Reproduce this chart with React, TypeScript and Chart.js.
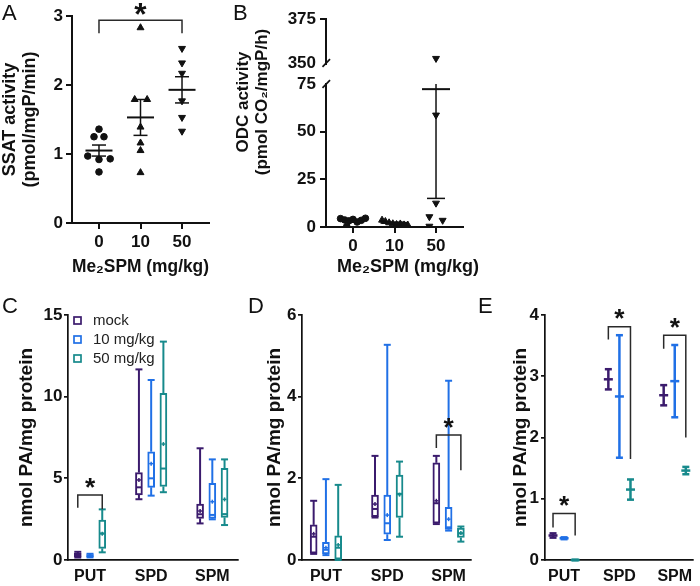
import React, { useEffect, useRef } from 'react';
import { Chart, registerables } from 'chart.js';

Chart.register(...registerables);

const FONT = "'Liberation Sans', Arial, Helvetica, sans-serif";
const INK = '#111111';
const PURPLE = '#3b1b6d';
const BLUE = '#2070e6';
const TEAL = '#178a8c';

// ---------------- Panels A & B : dose groups ----------------
const doseLabels = ['0', '10', '50'];
const doseTitle = 'Me\u2082SPM (mg/kg)';

// A: SSAT activity (pmol/mgP/min)
const ssat0 = [1.36, 1.25, 1.25, 0.97, 0.92, 0.93, 0.74];
const ssat0Jitter = [0, -0.12, 0.12, -0.27, 0, 0.27, 0];
const ssat10 = [2.83, 1.79, 1.79, 1.39, 1.16, 1.05, 0.73];
const ssat10Jitter = [0, -0.14, 0.16, 0, 0, 0, 0];
const ssat50 = [2.53, 2.32, 2.17, 1.77, 1.53, 1.33];
const ssat50Jitter = [0, 0, 0, 0, 0, 0];
const ssatMean = [1.05, 1.53, 1.93];
const ssatSem = [0.08, 0.26, 0.19];
// bracket: [x from, x to, top, left leg end, right leg end]
const ssatSig = [[0, 2, 2.94, 2.75, 2.75]];

// B: ODC activity (pmol CO2/mgP/h)
const odc0 = [4.4, 3.7, 3.2, 4.0, 2.6, 3.5, 4.6, 0.3];
const odc0Jitter = [-0.3, -0.2, -0.1, 0, 0.1, 0.2, 0.3, -0.15];
const odc10 = [3.6, 2.9, 2.2, 1.7, 1.3, 1.6, 1.1, 1.0];
const odc10Jitter = [-0.3, -0.22, -0.13, -0.04, 0.05, 0.14, 0.23, 0.32];
const odc50 = [353, 58.7, 12.5, 5.4, 3.5, 0.4];
const odc50Jitter = [0, 0, 0, -0.16, 0.16, -0.16];
const odcMean = [3.4, 2.2, 72.3];
const odcSem = [0.5, 0.3, 57.3];

// ---------------- Panels C, D, E : polyamines ----------------
const paCategories = ['PUT', 'SPD', 'SPM'];
const seriesLabels = ['mock', '10 mg/kg', '50 mg/kg'];
const paTitle = 'nmol PA/mg protein';

// C: boxes [min, q1, median, q3, max] for PUT, SPD, SPM
const cMock = [[0.15, 0.2, 0.3, 0.42, 0.5], [3.72, 3.98, 4.45, 5.35, 11.67], [2.24, 2.55, 2.8, 3.43, 6.84]];
const cMockMean = [0.32, 4.9, 3.0];
const c10 = [[0.16, 0.2, 0.26, 0.33, 0.38], [3.94, 4.45, 5.0, 6.63, 11.02], [2.49, 2.55, 2.76, 4.69, 6.16]];
const c10Mean = [0.27, 5.9, 3.57];
const c50 = [[0.47, 0.71, 1.63, 2.45, 3.1], [4.15, 4.5, 5.6, 10.2, 13.37], [2.14, 2.61, 2.81, 5.61, 6.16]];
const c50Mean = [1.6, 7.1, 3.71];
const cSig = [[-0.2, 0.2, 3.98, 3.2, 3.1]];

// D
const dMock = [[0.15, 0.17, 0.57, 0.86, 1.45], [1.04, 1.06, 1.25, 1.59, 2.55], [0.88, 0.9, 1.39, 2.38, 2.55]];
const dMockMean = [0.64, 1.37, 1.45];
const d10 = [[0.12, 0.15, 0.25, 0.43, 1.98], [0.49, 0.63, 0.9, 1.59, 5.27], [0.72, 0.75, 0.8, 1.29, 4.39]];
const d10Mean = [0.3, 1.1, 1.0];
const d50 = [[0.0, 0.02, 0.3, 0.59, 1.84], [0.57, 1.04, 1.62, 2.08, 2.41], [0.45, 0.55, 0.65, 0.78, 0.82]];
const d50Mean = [0.37, 1.6, 0.66];
const dSig = [[1.8, 2.2, 3.06, 2.74, 2.2]];

// E: mean and SEM
const eMockMean = [0.4, 2.95, 2.69];
const eMockSem = [0.035, 0.165, 0.165];
const e10Mean = [0.355, 2.67, 2.92];
const e10Sem = [0.015, 1.0, 0.59];
const e50Mean = [0.0, 1.15, 1.46];
const e50Sem = [0.005, 0.165, 0.06];
const eSig = [
  [-0.2, 0.2, 0.76, 0.53, 0.4],
  [0.8, 1.2, 3.81, 3.6, 1.65],
  [1.8, 2.2, 3.67, 3.45, 2.0],
];

const SERIES_OFFSETS = [-0.2, 0, 0.2];
const SERIES_COLORS = [PURPLE, BLUE, TEAL];

// ---------------- helpers ----------------
const boldFont = (size: number, lineHeight = 1.2) => ({ family: FONT, size, weight: 'bold', lineHeight });

function seg(ctx: any, x1: number, y1: number, x2: number, y2: number) {
  ctx.beginPath();
  ctx.moveTo(x1, y1);
  ctx.lineTo(x2, y2);
  ctx.stroke();
}

function yAxis(o: any) {
  return {
    type: 'linear',
    position: 'left',
    min: o.min,
    max: o.max,
    ticks: { stepSize: o.step, color: INK, font: boldFont(o.size), padding: o.tickPad },
    grid: {
      display: true,
      drawOnChartArea: false,
      drawTicks: true,
      tickLength: o.tickLen,
      lineWidth: o.line,
      color: INK,
      tickColor: (c: any) => (o.hide && c.tick && o.hide.includes(c.tick.value) ? 'rgba(0,0,0,0)' : INK),
    },
    border: { display: true, color: INK, width: o.line },
    title: o.title
      ? { display: true, text: o.title.text, color: INK, font: boldFont(o.title.size, o.title.lh), padding: { top: o.title.pad, bottom: 0 } }
      : { display: false },
    afterFit: (s: any) => {
      s.width = o.width;
    },
  };
}

function xAxis(o: any) {
  return {
    type: 'linear',
    position: 'bottom',
    min: o.min,
    max: o.max,
    offset: false,
    afterBuildTicks: (s: any) => {
      s.ticks = o.labels.map((_: string, i: number) => ({ value: i }));
    },
    ticks: {
      color: INK,
      font: boldFont(o.size),
      padding: o.tickPad,
      autoSkip: false,
      maxRotation: 0,
      callback: (v: number) => o.labels[Math.round(v)],
    },
    grid: {
      display: true,
      drawOnChartArea: false,
      drawTicks: o.tickLen > 0,
      tickLength: o.tickLen,
      lineWidth: o.line,
      color: INK,
      offset: false,
    },
    border: { display: true, color: INK, width: o.line },
    title: o.title
      ? { display: true, text: o.title.text, color: INK, font: boldFont(o.title.size, o.title.lh), padding: { top: 0, bottom: o.title.pad } }
      : { display: false },
    afterFit: (s: any) => {
      s.height = o.height;
    },
  };
}

const baseOptions = (padding: any) => ({
  responsive: false,
  animation: false,
  events: [],
  layout: { padding },
  plugins: { legend: { display: false }, tooltip: { enabled: false } },
});

type TextItem = { text: string; x: number; y: number; size: number; bold?: boolean; rotate?: boolean; align?: string; baseline?: string };

const textPlugin = (items: TextItem[]) => ({
  id: 'texts',
  afterDraw(chart: any) {
    const ctx = chart.ctx;
    items.forEach((t) => {
      ctx.save();
      ctx.font = `${t.bold ? 'bold ' : ''}${t.size}px ${FONT}`;
      ctx.fillStyle = INK;
      ctx.textAlign = t.align || 'center';
      ctx.textBaseline = t.baseline || 'middle';
      ctx.translate(t.x, t.y);
      if (t.rotate) ctx.rotate(-Math.PI / 2);
      ctx.fillText(t.text, 0, 0);
      ctx.restore();
    });
  },
});

const meanSemPlugin = (means: number[], sems: number[], meanHalf: number, capHalf: number) => ({
  id: 'meanSem',
  afterDatasetsDraw(chart: any) {
    const { ctx, chartArea: ca } = chart;
    const xs = chart.scales.x;
    const ys = chart.scales.y;
    ctx.save();
    ctx.beginPath();
    ctx.rect(ca.left, ca.top, ca.right - ca.left, ca.bottom - ca.top);
    ctx.clip();
    ctx.strokeStyle = INK;
    means.forEach((m, i) => {
      const cx = xs.getPixelForValue(i);
      const ym = ys.getPixelForValue(m);
      const yh = ys.getPixelForValue(m + sems[i]);
      const yl = ys.getPixelForValue(m - sems[i]);
      ctx.lineWidth = 2;
      seg(ctx, cx - meanHalf, ym, cx + meanHalf, ym);
      ctx.lineWidth = 1.5;
      seg(ctx, cx, yl, cx, yh);
      seg(ctx, cx - capHalf, yh, cx + capHalf, yh);
      seg(ctx, cx - capHalf, yl, cx + capHalf, yl);
    });
    ctx.restore();
  },
});

const sigPlugin = (brackets: number[][], starH: number, gap: number) => ({
  id: 'sig',
  afterDraw(chart: any) {
    const ctx = chart.ctx;
    const xs = chart.scales.x;
    const ys = chart.scales.y;
    ctx.save();
    ctx.strokeStyle = '#2a2a2a';
    ctx.lineWidth = 1.5;
    brackets.forEach(([x1, x2, top, l, r]) => {
      const X1 = xs.getPixelForValue(x1);
      const X2 = xs.getPixelForValue(x2);
      const T = ys.getPixelForValue(top);
      ctx.beginPath();
      ctx.moveTo(X1, ys.getPixelForValue(l));
      ctx.lineTo(X1, T);
      ctx.lineTo(X2, T);
      ctx.lineTo(X2, ys.getPixelForValue(r));
      ctx.stroke();
      ctx.font = `bold 100px ${FONT}`;
      const m0 = ctx.measureText('*');
      const h0 = m0.actualBoundingBoxAscent + m0.actualBoundingBoxDescent || 35;
      const size = (100 * starH) / h0;
      ctx.font = `bold ${size}px ${FONT}`;
      ctx.fillStyle = INK;
      ctx.textAlign = 'center';
      ctx.textBaseline = 'alphabetic';
      const m = ctx.measureText('*');
      const cy = T - gap;
      const base = cy + (m.actualBoundingBoxAscent - m.actualBoundingBoxDescent) / 2;
      ctx.fillText('*', (X1 + X2) / 2, base);
    });
    ctx.restore();
  },
});

const boxPlugin = (groups: number[][][], means: number[][], half: number) => ({
  id: 'boxWhiskers',
  afterDatasetsDraw(chart: any) {
    const ctx = chart.ctx;
    const xs = chart.scales.x;
    const ys = chart.scales.y;
    ctx.save();
    groups.forEach((boxes, k) => {
      ctx.strokeStyle = SERIES_COLORS[k];
      boxes.forEach((b, i) => {
        const cx = xs.getPixelForValue(i + SERIES_OFFSETS[k]);
        const [mn, q1, md, q3, mx] = b.map((v) => ys.getPixelForValue(v));
        ctx.lineWidth = 2;
        seg(ctx, cx, q3, cx, mx);
        seg(ctx, cx, q1, cx, mn);
        seg(ctx, cx - half, mx, cx + half, mx);
        seg(ctx, cx - half, mn, cx + half, mn);
        seg(ctx, cx - half + 1, md, cx + half - 1, md);
        const ym = ys.getPixelForValue(means[k][i]);
        ctx.lineWidth = 1.5;
        seg(ctx, cx - 2, ym, cx + 2, ym);
        seg(ctx, cx, ym - 2, cx, ym + 2);
      });
    });
    ctx.restore();
  },
});

const errPlugin = (means: number[][], sems: number[][], capHalf: number) => ({
  id: 'errBars',
  afterDatasetsDraw(chart: any) {
    const ctx = chart.ctx;
    const xs = chart.scales.x;
    const ys = chart.scales.y;
    ctx.save();
    means.forEach((ms, k) => {
      ctx.strokeStyle = SERIES_COLORS[k];
      ctx.lineWidth = 2.5;
      ms.forEach((m, i) => {
        const cx = xs.getPixelForValue(i + SERIES_OFFSETS[k]);
        const yh = ys.getPixelForValue(m + sems[k][i]);
        const yl = ys.getPixelForValue(m - sems[k][i]);
        seg(ctx, cx, yl, cx, yh);
        seg(ctx, cx - capHalf, yh, cx + capHalf, yh);
        seg(ctx, cx - capHalf, yl, cx + capHalf, yl);
      });
    });
    ctx.restore();
  },
});

const legendPlugin = {
  id: 'boxLegend',
  afterDraw(chart: any) {
    const ctx = chart.ctx;
    const ca = chart.chartArea;
    ctx.save();
    seriesLabels.forEach((label, i) => {
      const y = ca.top + 5.5 + i * 19;
      const x = ca.left + 6;
      ctx.fillStyle = '#ffffff';
      ctx.fillRect(x, y - 3.5, 7, 7);
      ctx.strokeStyle = SERIES_COLORS[i];
      ctx.lineWidth = 1.7;
      ctx.strokeRect(x, y - 3.5, 7, 7);
      ctx.font = `15px ${FONT}`;
      ctx.fillStyle = '#222';
      ctx.textAlign = 'left';
      ctx.textBaseline = 'middle';
      ctx.fillText(label, x + 19, y + 0.5);
    });
    ctx.restore();
  },
};

const breakPlugin = {
  id: 'axisBreak',
  afterDraw(chart: any) {
    const { ctx, chartArea: ca } = chart;
    ctx.save();
    ctx.strokeStyle = INK;
    ctx.lineWidth = 1.7;
    [ca.top, ca.top - 21].forEach((cy) => seg(ctx, ca.left - 3.5, cy + 3.8, ca.left + 4, cy - 3.8));
    ctx.restore();
  },
};

const pts = (vals: number[], jit: number[], center: number) => vals.map((v, i) => ({ x: center + jit[i], y: v }));
const dot = { backgroundColor: INK, borderColor: INK, pointBackgroundColor: INK, pointBorderColor: INK, pointBorderWidth: 1 };

// ---------------- chart configs ----------------
function configA() {
  return {
    type: 'scatter',
    data: {
      datasets: [
        { data: pts(ssat0, ssat0Jitter, 0), pointStyle: 'circle', pointRadius: 3.3, ...dot },
        { data: pts(ssat10, ssat10Jitter, 1), pointStyle: 'triangle', pointRadius: 4, ...dot },
        { data: pts(ssat50, ssat50Jitter, 2), pointStyle: 'triangle', pointRotation: 180, pointRadius: 4, ...dot },
      ],
    },
    options: {
      ...baseOptions({ top: 16, right: 21, bottom: 0, left: 0 }),
      scales: {
        x: xAxis({ min: -0.65, max: 2.65, labels: doseLabels, height: 57, tickLen: 6, tickPad: 3, size: 17, line: 2, title: { text: doseTitle, size: 18, lh: 1.1, pad: 3 } }),
        y: yAxis({ min: 0, max: 3, step: 1, width: 72, tickLen: 6, tickPad: 3, size: 17, line: 2, title: { text: ['SSAT activity', '(pmol/mgP/min)'], size: 18, lh: 1.1, pad: 0 } }),
      },
    },
    plugins: [
      meanSemPlugin(ssatMean, ssatSem, 13.5, 7),
      sigPlugin(ssatSig, 12, 11),
      textPlugin([{ text: 'A', x: 2, y: 20, size: 22, align: 'left', baseline: 'alphabetic' }]),
    ],
  };
}

function odcDatasets() {
  return [
    { data: pts(odc0, odc0Jitter, 0), pointStyle: 'circle', pointRadius: 3.3, ...dot },
    { data: pts(odc10, odc10Jitter, 1), pointStyle: 'triangle', pointRadius: 4, ...dot },
    { data: pts(odc50, odc50Jitter, 2), pointStyle: 'triangle', pointRotation: 180, pointRadius: 4, ...dot },
  ];
}

function configBLower() {
  return {
    type: 'scatter',
    data: { datasets: odcDatasets() },
    options: {
      ...baseOptions({ top: 84, right: 17, bottom: 0, left: 0 }),
      scales: {
        x: xAxis({ min: -0.65, max: 2.65, labels: doseLabels, height: 53, tickLen: 6, tickPad: 3, size: 17, line: 2 }),
        y: yAxis({ min: 0, max: 75, step: 25, width: 96, tickLen: 6, tickPad: 4, size: 17, line: 2, hide: [75] }),
      },
    },
    plugins: [
      meanSemPlugin(odcMean, odcSem, 14, 9),
      breakPlugin,
      textPlugin([
        { text: 'B', x: 3, y: 20, size: 22, align: 'left', baseline: 'alphabetic' },
        { text: 'ODC activity', x: 13.5, y: 102, size: 17, bold: true, rotate: true },
        { text: '(pmol CO\u2082/mgP/h)', x: 32, y: 102, size: 17, bold: true, rotate: true },
        { text: doseTitle, x: 178, y: 267, size: 18, bold: true },
      ]),
    ],
  };
}

function configBUpper() {
  return {
    type: 'scatter',
    data: { datasets: odcDatasets() },
    options: {
      ...baseOptions({ top: 19, right: 17, bottom: 11, left: 0 }),
      scales: {
        x: { type: 'linear', min: -0.65, max: 2.65, display: false },
        y: yAxis({ min: 350, max: 375, step: 25, width: 96, tickLen: 6, tickPad: 4, size: 17, line: 2, hide: [350] }),
      },
    },
  };
}

function boxConfig(p: any) {
  const datasets = p.groups.map((boxes: number[][], k: number) => ({
    label: seriesLabels[k],
    data: boxes.map((b, i) => ({ x: i + SERIES_OFFSETS[k], y: [b[1], b[3]] })),
    backgroundColor: '#ffffff',
    borderColor: SERIES_COLORS[k],
    borderWidth: 2,
    borderSkipped: false,
    barThickness: 7,
    grouped: false,
  }));
  const plugins: any[] = [
    boxPlugin(p.groups, p.means, 3.5),
    sigPlugin(p.sig, 10, 12),
    textPlugin([{ text: p.letter, x: p.letterX, y: 33, size: 22, align: 'left', baseline: 'alphabetic' }]),
  ];
  if (p.legend) plugins.push(legendPlugin);
  return {
    type: 'bar',
    data: { datasets },
    options: {
      ...baseOptions({ top: 35, right: p.right, bottom: 0, left: 0 }),
      scales: {
        x: xAxis({ min: p.xMin, max: p.xMax, labels: paCategories, height: 26, tickLen: 0, tickPad: 7, size: 16, line: 1.7 }),
        y: yAxis({ min: 0, max: p.yMax, step: p.yStep, width: p.yWidth, tickLen: 4, tickPad: 1.5, size: 17, line: 1.7, title: { text: paTitle, size: 19, lh: 1.2, pad: p.titlePad } }),
      },
    },
    plugins,
  };
}

const configC = () =>
  boxConfig({ groups: [cMock, c10, c50], means: [cMockMean, c10Mean, c50Mean], sig: cSig, yMax: 15, yStep: 5, xMin: -0.36, xMax: 2.42, yWidth: 68, right: 4, titlePad: 15.3, letter: 'C', letterX: 2, legend: true });

const configD = () =>
  boxConfig({ groups: [dMock, d10, d50], means: [dMockMean, d10Mean, d50Mean], sig: dSig, yMax: 6, yStep: 2, xMin: -0.39, xMax: 2.365, yWidth: 60, right: 4, titlePad: 21.6, letter: 'D', letterX: 6 });

function configE() {
  const means = [eMockMean, e10Mean, e50Mean];
  const sems = [eMockSem, e10Sem, e50Sem];
  return {
    type: 'scatter',
    data: {
      datasets: means.map((ms, k) => ({
        label: seriesLabels[k],
        data: ms.map((m, i) => ({ x: i + SERIES_OFFSETS[k], y: m })),
        pointStyle: 'line',
        pointRadius: 4.5,
        pointBorderWidth: 2.5,
        borderColor: SERIES_COLORS[k],
        pointBorderColor: SERIES_COLORS[k],
        backgroundColor: SERIES_COLORS[k],
        clip: false,
      })),
    },
    options: {
      ...baseOptions({ top: 35, right: 0, bottom: 0, left: 0 }),
      scales: {
        x: xAxis({ min: -0.345, max: 2.33, labels: paCategories, height: 26, tickLen: 0, tickPad: 7, size: 16, line: 1.7 }),
        y: yAxis({ min: 0, max: 4, step: 1, width: 70, tickLen: 4, tickPad: 2, size: 17, line: 1.7, title: { text: paTitle, size: 19, lh: 1.2, pad: 34.6 } }),
      },
    },
    plugins: [
      errPlugin(means, sems, 3.5),
      sigPlugin(eSig, 10, 12.5),
      textPlugin([{ text: 'E', x: 3, y: 33, size: 22, align: 'left', baseline: 'alphabetic' }]),
    ],
  };
}

// ---------------- components ----------------
function ChartCanvas({ left, top, width, height, make }: any) {
  const ref = useRef<HTMLCanvasElement | null>(null);
  useEffect(() => {
    if (!ref.current) return;
    const chart = new Chart(ref.current, make());
    return () => chart.destroy();
  }, [make]);
  return <canvas ref={ref} width={width} height={height} style={{ position: 'absolute', left, top, width, height }} />;
}

export default function App() {
  return (
    <div style={{ position: 'absolute', left: 0, top: 0, width: 700, height: 586, background: '#ffffff', overflow: 'hidden' }}>
      <ChartCanvas left={0} top={0} width={230} height={280} make={configA} />
      <ChartCanvas left={230} top={0} width={250} height={280} make={configBLower} />
      <ChartCanvas left={230} top={0} width={250} height={78} make={configBUpper} />
      <ChartCanvas left={0} top={280} width={242} height={306} make={configC} />
      <ChartCanvas left={242} top={280} width={233} height={306} make={configD} />
      <ChartCanvas left={475} top={280} width={225} height={306} make={configE} />
    </div>
  );
}
